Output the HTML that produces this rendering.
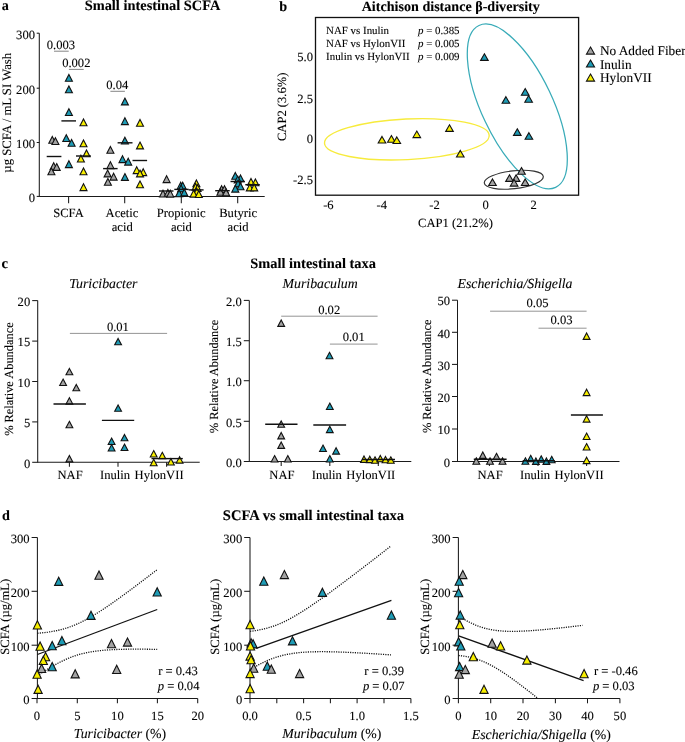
<!DOCTYPE html><html><head><meta charset="utf-8"><style>html,body{margin:0;padding:0;background:#fff;overflow:hidden;width:685px;height:742px;}svg{display:block;will-change:transform;}text{fill:#000;stroke:#000;stroke-width:0.1px;}</style></head><body><svg width="685" height="742" viewBox="0 0 685 742" style="text-rendering:geometricPrecision"><rect width="685" height="742" fill="#fff"/><text x="1.80" y="10.20" font-size="14.2" text-anchor="start" font-weight="bold" font-style="normal" font-family="Liberation Serif" >a</text>
<text x="84.70" y="10.00" font-size="14.4" text-anchor="start" font-weight="bold" font-style="normal" font-family="Liberation Serif" >Small intestinal SCFA</text>
<line x1="39.30" y1="33.20" x2="39.30" y2="196.90" stroke="#1a1a1a" stroke-width="1.05" />
<line x1="36.70" y1="33.20" x2="39.30" y2="33.20" stroke="#1a1a1a" stroke-width="1.05" />
<text x="35.00" y="38.80" font-size="12.6" text-anchor="end" font-weight="normal" font-style="normal" font-family="Liberation Serif" >300</text>
<line x1="36.70" y1="88.20" x2="39.30" y2="88.20" stroke="#1a1a1a" stroke-width="1.05" />
<text x="35.00" y="93.80" font-size="12.6" text-anchor="end" font-weight="normal" font-style="normal" font-family="Liberation Serif" >200</text>
<line x1="36.70" y1="142.50" x2="39.30" y2="142.50" stroke="#1a1a1a" stroke-width="1.05" />
<text x="35.00" y="148.10" font-size="12.6" text-anchor="end" font-weight="normal" font-style="normal" font-family="Liberation Serif" >100</text>
<line x1="36.70" y1="196.40" x2="39.30" y2="196.40" stroke="#1a1a1a" stroke-width="1.05" />
<text x="35.00" y="202.00" font-size="12.6" text-anchor="end" font-weight="normal" font-style="normal" font-family="Liberation Serif" >0</text>
<line x1="39.30" y1="196.40" x2="264.70" y2="196.40" stroke="#1a1a1a" stroke-width="1.05" />
<line x1="68.60" y1="196.40" x2="68.60" y2="203.30" stroke="#1a1a1a" stroke-width="1.05" />
<line x1="124.70" y1="196.40" x2="124.70" y2="203.30" stroke="#1a1a1a" stroke-width="1.05" />
<line x1="181.30" y1="196.40" x2="181.30" y2="203.30" stroke="#1a1a1a" stroke-width="1.05" />
<line x1="237.70" y1="196.40" x2="237.70" y2="203.30" stroke="#1a1a1a" stroke-width="1.05" />
<text x="68.50" y="216.80" font-size="12.6" text-anchor="middle" font-weight="normal" font-style="normal" font-family="Liberation Serif" >SCFA</text>
<text x="122.00" y="216.80" font-size="12.6" text-anchor="middle" font-weight="normal" font-style="normal" font-family="Liberation Serif" >Acetic</text>
<text x="122.20" y="230.90" font-size="12.6" text-anchor="middle" font-weight="normal" font-style="normal" font-family="Liberation Serif" >acid</text>
<text x="181.20" y="216.80" font-size="12.6" text-anchor="middle" font-weight="normal" font-style="normal" font-family="Liberation Serif" >Propionic</text>
<text x="181.40" y="230.90" font-size="12.6" text-anchor="middle" font-weight="normal" font-style="normal" font-family="Liberation Serif" >acid</text>
<text x="238.10" y="216.80" font-size="12.6" text-anchor="middle" font-weight="normal" font-style="normal" font-family="Liberation Serif" >Butyric</text>
<text x="238.10" y="230.90" font-size="12.6" text-anchor="middle" font-weight="normal" font-style="normal" font-family="Liberation Serif" >acid</text>
<text x="0" y="0" font-size="12.75" text-anchor="middle" font-family="Liberation Serif" transform="translate(10.70,112.75) rotate(-90)" >µg SCFA / mL SI Wash</text>
<text x="60.90" y="48.60" font-size="12.6" text-anchor="middle" font-weight="normal" font-style="normal" font-family="Liberation Serif" >0.003</text>
<line x1="54.00" y1="51.20" x2="68.70" y2="51.20" stroke="#777" stroke-width="0.9" />
<text x="76.30" y="66.50" font-size="12.6" text-anchor="middle" font-weight="normal" font-style="normal" font-family="Liberation Serif" >0.002</text>
<line x1="68.90" y1="69.40" x2="83.70" y2="69.40" stroke="#777" stroke-width="0.9" />
<text x="117.30" y="88.60" font-size="12.6" text-anchor="middle" font-weight="normal" font-style="normal" font-family="Liberation Serif" >0.04</text>
<line x1="110.40" y1="91.30" x2="124.90" y2="91.30" stroke="#777" stroke-width="0.9" />
<path d="M52.30 136.40L55.80 143.20L48.80 143.20Z" fill="#a3a3a3" stroke="#111" stroke-width="1.1" stroke-linejoin="miter"/>
<path d="M55.40 137.70L58.90 144.50L51.90 144.50Z" fill="#a3a3a3" stroke="#111" stroke-width="1.1" stroke-linejoin="miter"/>
<path d="M53.70 162.70L57.20 169.50L50.20 169.50Z" fill="#a3a3a3" stroke="#111" stroke-width="1.1" stroke-linejoin="miter"/>
<path d="M56.70 163.60L60.20 170.40L53.20 170.40Z" fill="#a3a3a3" stroke="#111" stroke-width="1.1" stroke-linejoin="miter"/>
<path d="M51.40 168.00L54.90 174.80L47.90 174.80Z" fill="#a3a3a3" stroke="#111" stroke-width="1.1" stroke-linejoin="miter"/>
<path d="M68.90 74.50L72.40 81.30L65.40 81.30Z" fill="#1e9cb6" stroke="#111" stroke-width="1.1" stroke-linejoin="miter"/>
<path d="M68.90 85.90L72.40 92.70L65.40 92.70Z" fill="#1e9cb6" stroke="#111" stroke-width="1.1" stroke-linejoin="miter"/>
<path d="M68.90 108.70L72.40 115.50L65.40 115.50Z" fill="#1e9cb6" stroke="#111" stroke-width="1.1" stroke-linejoin="miter"/>
<path d="M66.30 134.70L69.80 141.50L62.80 141.50Z" fill="#1e9cb6" stroke="#111" stroke-width="1.1" stroke-linejoin="miter"/>
<path d="M71.60 139.40L75.10 146.20L68.10 146.20Z" fill="#1e9cb6" stroke="#111" stroke-width="1.1" stroke-linejoin="miter"/>
<path d="M68.90 160.80L72.40 167.60L65.40 167.60Z" fill="#1e9cb6" stroke="#111" stroke-width="1.1" stroke-linejoin="miter"/>
<path d="M83.50 118.90L87.00 125.70L80.00 125.70Z" fill="#f7ee00" stroke="#111" stroke-width="1.1" stroke-linejoin="miter"/>
<path d="M83.50 139.90L87.00 146.70L80.00 146.70Z" fill="#f7ee00" stroke="#111" stroke-width="1.1" stroke-linejoin="miter"/>
<path d="M86.50 149.90L90.00 156.70L83.00 156.70Z" fill="#f7ee00" stroke="#111" stroke-width="1.1" stroke-linejoin="miter"/>
<path d="M80.90 155.20L84.40 162.00L77.40 162.00Z" fill="#f7ee00" stroke="#111" stroke-width="1.1" stroke-linejoin="miter"/>
<path d="M83.50 168.00L87.00 174.80L80.00 174.80Z" fill="#f7ee00" stroke="#111" stroke-width="1.1" stroke-linejoin="miter"/>
<path d="M83.50 183.80L87.00 190.60L80.00 190.60Z" fill="#f7ee00" stroke="#111" stroke-width="1.1" stroke-linejoin="miter"/>
<path d="M110.40 146.50L113.90 153.30L106.90 153.30Z" fill="#a3a3a3" stroke="#111" stroke-width="1.1" stroke-linejoin="miter"/>
<path d="M110.40 161.80L113.90 168.60L106.90 168.60Z" fill="#a3a3a3" stroke="#111" stroke-width="1.1" stroke-linejoin="miter"/>
<path d="M107.60 170.10L111.10 176.90L104.10 176.90Z" fill="#a3a3a3" stroke="#111" stroke-width="1.1" stroke-linejoin="miter"/>
<path d="M113.60 173.30L117.10 180.10L110.10 180.10Z" fill="#a3a3a3" stroke="#111" stroke-width="1.1" stroke-linejoin="miter"/>
<path d="M107.90 178.50L111.40 185.30L104.40 185.30Z" fill="#a3a3a3" stroke="#111" stroke-width="1.1" stroke-linejoin="miter"/>
<path d="M124.90 98.10L128.40 104.90L121.40 104.90Z" fill="#1e9cb6" stroke="#111" stroke-width="1.1" stroke-linejoin="miter"/>
<path d="M124.90 117.80L128.40 124.60L121.40 124.60Z" fill="#1e9cb6" stroke="#111" stroke-width="1.1" stroke-linejoin="miter"/>
<path d="M124.90 137.20L128.40 144.00L121.40 144.00Z" fill="#1e9cb6" stroke="#111" stroke-width="1.1" stroke-linejoin="miter"/>
<path d="M122.50 155.80L126.00 162.60L119.00 162.60Z" fill="#1e9cb6" stroke="#111" stroke-width="1.1" stroke-linejoin="miter"/>
<path d="M128.20 158.30L131.70 165.10L124.70 165.10Z" fill="#1e9cb6" stroke="#111" stroke-width="1.1" stroke-linejoin="miter"/>
<path d="M124.90 173.60L128.40 180.40L121.40 180.40Z" fill="#1e9cb6" stroke="#111" stroke-width="1.1" stroke-linejoin="miter"/>
<path d="M140.00 119.50L143.50 126.30L136.50 126.30Z" fill="#f7ee00" stroke="#111" stroke-width="1.1" stroke-linejoin="miter"/>
<path d="M140.00 142.10L143.50 148.90L136.50 148.90Z" fill="#f7ee00" stroke="#111" stroke-width="1.1" stroke-linejoin="miter"/>
<path d="M136.70 166.80L140.20 173.60L133.20 173.60Z" fill="#f7ee00" stroke="#111" stroke-width="1.1" stroke-linejoin="miter"/>
<path d="M143.20 168.80L146.70 175.60L139.70 175.60Z" fill="#f7ee00" stroke="#111" stroke-width="1.1" stroke-linejoin="miter"/>
<path d="M140.00 170.10L143.50 176.90L136.50 176.90Z" fill="#f7ee00" stroke="#111" stroke-width="1.1" stroke-linejoin="miter"/>
<path d="M140.00 180.90L143.50 187.70L136.50 187.70Z" fill="#f7ee00" stroke="#111" stroke-width="1.1" stroke-linejoin="miter"/>
<path d="M166.60 175.80L170.10 182.60L163.10 182.60Z" fill="#a3a3a3" stroke="#111" stroke-width="1.1" stroke-linejoin="miter"/>
<path d="M163.00 190.20L166.50 197.00L159.50 197.00Z" fill="#a3a3a3" stroke="#111" stroke-width="1.1" stroke-linejoin="miter"/>
<path d="M167.90 189.50L171.40 196.30L164.40 196.30Z" fill="#a3a3a3" stroke="#111" stroke-width="1.1" stroke-linejoin="miter"/>
<path d="M170.30 190.30L173.80 197.10L166.80 197.10Z" fill="#a3a3a3" stroke="#111" stroke-width="1.1" stroke-linejoin="miter"/>
<path d="M180.70 182.30L184.20 189.10L177.20 189.10Z" fill="#1e9cb6" stroke="#111" stroke-width="1.1" stroke-linejoin="miter"/>
<path d="M182.70 182.30L186.20 189.10L179.20 189.10Z" fill="#1e9cb6" stroke="#111" stroke-width="1.1" stroke-linejoin="miter"/>
<path d="M181.10 185.10L184.60 191.90L177.60 191.90Z" fill="#1e9cb6" stroke="#111" stroke-width="1.1" stroke-linejoin="miter"/>
<path d="M179.10 189.90L182.60 196.70L175.60 196.70Z" fill="#1e9cb6" stroke="#111" stroke-width="1.1" stroke-linejoin="miter"/>
<path d="M184.30 189.10L187.80 195.90L180.80 195.90Z" fill="#1e9cb6" stroke="#111" stroke-width="1.1" stroke-linejoin="miter"/>
<path d="M196.40 179.90L199.90 186.70L192.90 186.70Z" fill="#f7ee00" stroke="#111" stroke-width="1.1" stroke-linejoin="miter"/>
<path d="M195.60 183.50L199.10 190.30L192.10 190.30Z" fill="#f7ee00" stroke="#111" stroke-width="1.1" stroke-linejoin="miter"/>
<path d="M197.60 184.70L201.10 191.50L194.10 191.50Z" fill="#f7ee00" stroke="#111" stroke-width="1.1" stroke-linejoin="miter"/>
<path d="M196.80 188.30L200.30 195.10L193.30 195.10Z" fill="#f7ee00" stroke="#111" stroke-width="1.1" stroke-linejoin="miter"/>
<path d="M193.60 190.30L197.10 197.10L190.10 197.10Z" fill="#f7ee00" stroke="#111" stroke-width="1.1" stroke-linejoin="miter"/>
<path d="M198.80 190.70L202.30 197.50L195.30 197.50Z" fill="#f7ee00" stroke="#111" stroke-width="1.1" stroke-linejoin="miter"/>
<path d="M221.60 185.70L225.10 192.50L218.10 192.50Z" fill="#a3a3a3" stroke="#111" stroke-width="1.1" stroke-linejoin="miter"/>
<path d="M224.50 185.70L228.00 192.50L221.00 192.50Z" fill="#a3a3a3" stroke="#111" stroke-width="1.1" stroke-linejoin="miter"/>
<path d="M220.40 188.50L223.90 195.30L216.90 195.30Z" fill="#a3a3a3" stroke="#111" stroke-width="1.1" stroke-linejoin="miter"/>
<path d="M226.10 188.90L229.60 195.70L222.60 195.70Z" fill="#a3a3a3" stroke="#111" stroke-width="1.1" stroke-linejoin="miter"/>
<path d="M235.30 172.40L238.80 179.20L231.80 179.20Z" fill="#1e9cb6" stroke="#111" stroke-width="1.1" stroke-linejoin="miter"/>
<path d="M240.50 174.90L244.00 181.70L237.00 181.70Z" fill="#1e9cb6" stroke="#111" stroke-width="1.1" stroke-linejoin="miter"/>
<path d="M237.70 176.10L241.20 182.90L234.20 182.90Z" fill="#1e9cb6" stroke="#111" stroke-width="1.1" stroke-linejoin="miter"/>
<path d="M238.10 180.10L241.60 186.90L234.60 186.90Z" fill="#1e9cb6" stroke="#111" stroke-width="1.1" stroke-linejoin="miter"/>
<path d="M240.50 182.90L244.00 189.70L237.00 189.70Z" fill="#1e9cb6" stroke="#111" stroke-width="1.1" stroke-linejoin="miter"/>
<path d="M235.30 185.30L238.80 192.10L231.80 192.10Z" fill="#1e9cb6" stroke="#111" stroke-width="1.1" stroke-linejoin="miter"/>
<path d="M251.00 178.50L254.50 185.30L247.50 185.30Z" fill="#f7ee00" stroke="#111" stroke-width="1.1" stroke-linejoin="miter"/>
<path d="M255.40 178.90L258.90 185.70L251.90 185.70Z" fill="#f7ee00" stroke="#111" stroke-width="1.1" stroke-linejoin="miter"/>
<path d="M249.80 184.10L253.30 190.90L246.30 190.90Z" fill="#f7ee00" stroke="#111" stroke-width="1.1" stroke-linejoin="miter"/>
<path d="M254.20 184.10L257.70 190.90L250.70 190.90Z" fill="#f7ee00" stroke="#111" stroke-width="1.1" stroke-linejoin="miter"/>
<line x1="46.70" y1="156.50" x2="61.40" y2="156.50" stroke="#111" stroke-width="1.4" />
<line x1="61.40" y1="120.90" x2="76.00" y2="120.90" stroke="#111" stroke-width="1.4" />
<line x1="76.00" y1="156.00" x2="90.90" y2="156.00" stroke="#111" stroke-width="1.4" />
<line x1="103.10" y1="168.60" x2="117.60" y2="168.60" stroke="#111" stroke-width="1.4" />
<line x1="117.60" y1="142.80" x2="132.50" y2="142.80" stroke="#111" stroke-width="1.4" />
<line x1="132.50" y1="160.50" x2="147.10" y2="160.50" stroke="#111" stroke-width="1.4" />
<line x1="159.00" y1="191.00" x2="173.50" y2="191.00" stroke="#111" stroke-width="1.4" />
<line x1="174.30" y1="189.40" x2="188.70" y2="189.40" stroke="#111" stroke-width="1.4" />
<line x1="188.70" y1="189.90" x2="203.60" y2="189.90" stroke="#111" stroke-width="1.4" />
<line x1="215.20" y1="190.70" x2="229.70" y2="190.70" stroke="#111" stroke-width="1.4" />
<line x1="230.50" y1="181.50" x2="244.90" y2="181.50" stroke="#111" stroke-width="1.4" />
<line x1="245.30" y1="184.70" x2="259.80" y2="184.70" stroke="#111" stroke-width="1.4" />
<text x="279.20" y="11.00" font-size="14.2" text-anchor="start" font-weight="bold" font-style="normal" font-family="Liberation Serif" >b</text>
<text x="361.70" y="11.10" font-size="14.1" text-anchor="start" font-weight="bold" font-style="normal" font-family="Liberation Serif" >Aitchison distance β-diversity</text>
<rect x="315.5" y="17.5" width="263.1" height="177.7" fill="none" stroke="#111" stroke-width="1.3"/>
<text x="313.00" y="61.00" font-size="12.6" text-anchor="end" font-weight="normal" font-style="normal" font-family="Liberation Serif" >5.0</text>
<text x="313.00" y="102.50" font-size="12.6" text-anchor="end" font-weight="normal" font-style="normal" font-family="Liberation Serif" >2.5</text>
<text x="313.00" y="143.30" font-size="12.6" text-anchor="end" font-weight="normal" font-style="normal" font-family="Liberation Serif" >0</text>
<text x="313.00" y="183.80" font-size="12.6" text-anchor="end" font-weight="normal" font-style="normal" font-family="Liberation Serif" >-2.5</text>
<text x="328.40" y="208.50" font-size="12.6" text-anchor="middle" font-weight="normal" font-style="normal" font-family="Liberation Serif" >-6</text>
<text x="381.70" y="208.50" font-size="12.6" text-anchor="middle" font-weight="normal" font-style="normal" font-family="Liberation Serif" >-4</text>
<text x="434.60" y="208.50" font-size="12.6" text-anchor="middle" font-weight="normal" font-style="normal" font-family="Liberation Serif" >-2</text>
<text x="485.70" y="208.50" font-size="12.6" text-anchor="middle" font-weight="normal" font-style="normal" font-family="Liberation Serif" >0</text>
<text x="533.60" y="208.50" font-size="12.6" text-anchor="middle" font-weight="normal" font-style="normal" font-family="Liberation Serif" >2</text>
<text x="455.50" y="227.40" font-size="12.6" text-anchor="middle" font-weight="normal" font-style="normal" font-family="Liberation Serif" >CAP1 (21.2%)</text>
<text x="0" y="0" font-size="12.6" text-anchor="middle" font-family="Liberation Serif" transform="translate(286.20,106.80) rotate(-90)" >CAP2 (3.6%)</text>
<text x="326.10" y="34.40" font-size="10.9" text-anchor="start" font-weight="normal" font-style="normal" font-family="Liberation Serif" >NAF vs Inulin</text>
<text x="326.10" y="47.40" font-size="10.9" text-anchor="start" font-weight="normal" font-style="normal" font-family="Liberation Serif" >NAF vs HylonVII</text>
<text x="326.10" y="60.40" font-size="10.9" text-anchor="start" font-weight="normal" font-style="normal" font-family="Liberation Serif" >Inulin vs HylonVII</text>
<text x="418.0" y="34.4" font-size="10.9" font-family="Liberation Serif"><tspan font-style="italic">p</tspan> = 0.385</text>
<text x="418.0" y="47.4" font-size="10.9" font-family="Liberation Serif"><tspan font-style="italic">p</tspan> = 0.005</text>
<text x="418.0" y="60.4" font-size="10.9" font-family="Liberation Serif"><tspan font-style="italic">p</tspan> = 0.009</text>
<ellipse cx="0" cy="0" rx="82.44" ry="20.35" fill="none" stroke="#f7eb3c" stroke-width="1.35" transform="translate(406.85,139.30) rotate(-2.75)"/>
<ellipse cx="0" cy="0" rx="89.55" ry="35.50" fill="none" stroke="#38abb8" stroke-width="1.25" transform="translate(517.30,106.40) rotate(64.65)"/>
<ellipse cx="0" cy="0" rx="29.67" ry="8.92" fill="none" stroke="#333" stroke-width="1.2" transform="translate(513.80,179.75) rotate(-6.34)"/>
<path d="M382.00 136.40L385.80 143.00L378.20 143.00Z" fill="#f7ee00" stroke="#111" stroke-width="1.1" stroke-linejoin="miter"/>
<path d="M391.40 135.60L395.20 142.20L387.60 142.20Z" fill="#f7ee00" stroke="#111" stroke-width="1.1" stroke-linejoin="miter"/>
<path d="M396.80 136.90L400.60 143.50L393.00 143.50Z" fill="#f7ee00" stroke="#111" stroke-width="1.1" stroke-linejoin="miter"/>
<path d="M416.80 131.00L420.60 137.60L413.00 137.60Z" fill="#f7ee00" stroke="#111" stroke-width="1.1" stroke-linejoin="miter"/>
<path d="M449.50 124.80L453.30 131.40L445.70 131.40Z" fill="#f7ee00" stroke="#111" stroke-width="1.1" stroke-linejoin="miter"/>
<path d="M460.30 150.40L464.10 157.00L456.50 157.00Z" fill="#f7ee00" stroke="#111" stroke-width="1.1" stroke-linejoin="miter"/>
<path d="M484.40 53.80L488.20 60.40L480.60 60.40Z" fill="#1e9cb6" stroke="#111" stroke-width="1.1" stroke-linejoin="miter"/>
<path d="M505.90 96.70L509.70 103.30L502.10 103.30Z" fill="#1e9cb6" stroke="#111" stroke-width="1.1" stroke-linejoin="miter"/>
<path d="M525.20 88.60L529.00 95.20L521.40 95.20Z" fill="#1e9cb6" stroke="#111" stroke-width="1.1" stroke-linejoin="miter"/>
<path d="M528.60 95.60L532.40 102.20L524.80 102.20Z" fill="#1e9cb6" stroke="#111" stroke-width="1.1" stroke-linejoin="miter"/>
<path d="M517.30 128.80L521.10 135.40L513.50 135.40Z" fill="#1e9cb6" stroke="#111" stroke-width="1.1" stroke-linejoin="miter"/>
<path d="M528.90 132.70L532.70 139.30L525.10 139.30Z" fill="#1e9cb6" stroke="#111" stroke-width="1.1" stroke-linejoin="miter"/>
<path d="M492.50 178.90L496.30 185.50L488.70 185.50Z" fill="#a3a3a3" stroke="#111" stroke-width="1.1" stroke-linejoin="miter"/>
<path d="M509.50 174.80L513.30 181.40L505.70 181.40Z" fill="#a3a3a3" stroke="#111" stroke-width="1.1" stroke-linejoin="miter"/>
<path d="M516.10 174.80L519.90 181.40L512.30 181.40Z" fill="#a3a3a3" stroke="#111" stroke-width="1.1" stroke-linejoin="miter"/>
<path d="M514.10 179.50L517.90 186.10L510.30 186.10Z" fill="#a3a3a3" stroke="#111" stroke-width="1.1" stroke-linejoin="miter"/>
<path d="M521.50 167.60L525.30 174.20L517.70 174.20Z" fill="#a3a3a3" stroke="#111" stroke-width="1.1" stroke-linejoin="miter"/>
<path d="M525.20 178.90L529.00 185.50L521.40 185.50Z" fill="#a3a3a3" stroke="#111" stroke-width="1.1" stroke-linejoin="miter"/>
<path d="M590.50 47.10L594.53 54.10L586.47 54.10Z" fill="#a3a3a3" stroke="#111" stroke-width="1.1" stroke-linejoin="miter"/>
<text x="599.90" y="54.90" font-size="13.3" text-anchor="start" font-weight="normal" font-style="normal" font-family="Liberation Serif" >No Added Fiber</text>
<path d="M590.50 60.00L594.53 67.00L586.47 67.00Z" fill="#1e9cb6" stroke="#111" stroke-width="1.1" stroke-linejoin="miter"/>
<text x="599.90" y="68.60" font-size="13.3" text-anchor="start" font-weight="normal" font-style="normal" font-family="Liberation Serif" >Inulin</text>
<path d="M590.50 74.10L594.53 81.10L586.47 81.10Z" fill="#f7ee00" stroke="#111" stroke-width="1.1" stroke-linejoin="miter"/>
<text x="599.90" y="82.10" font-size="13.3" text-anchor="start" font-weight="normal" font-style="normal" font-family="Liberation Serif" >HylonVII</text>
<text x="1.60" y="267.90" font-size="14.6" text-anchor="start" font-weight="bold" font-style="normal" font-family="Liberation Serif" >c</text>
<text x="313.10" y="267.70" font-size="14.4" text-anchor="middle" font-weight="bold" font-style="normal" font-family="Liberation Serif" >Small intestinal taxa</text>
<line x1="37.70" y1="300.60" x2="37.70" y2="462.80" stroke="#1a1a1a" stroke-width="1.05" />
<line x1="32.20" y1="462.30" x2="37.70" y2="462.30" stroke="#1a1a1a" stroke-width="1.05" />
<text x="30.20" y="467.50" font-size="12.6" text-anchor="end" font-weight="normal" font-style="normal" font-family="Liberation Serif" >0</text>
<line x1="32.20" y1="421.90" x2="37.70" y2="421.90" stroke="#1a1a1a" stroke-width="1.05" />
<text x="30.20" y="427.10" font-size="12.6" text-anchor="end" font-weight="normal" font-style="normal" font-family="Liberation Serif" >5</text>
<line x1="32.20" y1="381.50" x2="37.70" y2="381.50" stroke="#1a1a1a" stroke-width="1.05" />
<text x="30.20" y="386.70" font-size="12.6" text-anchor="end" font-weight="normal" font-style="normal" font-family="Liberation Serif" >10</text>
<line x1="32.20" y1="341.10" x2="37.70" y2="341.10" stroke="#1a1a1a" stroke-width="1.05" />
<text x="30.20" y="346.30" font-size="12.6" text-anchor="end" font-weight="normal" font-style="normal" font-family="Liberation Serif" >15</text>
<line x1="32.20" y1="300.60" x2="37.70" y2="300.60" stroke="#1a1a1a" stroke-width="1.05" />
<text x="30.20" y="305.80" font-size="12.6" text-anchor="end" font-weight="normal" font-style="normal" font-family="Liberation Serif" >20</text>
<line x1="37.70" y1="462.30" x2="199.70" y2="462.30" stroke="#1a1a1a" stroke-width="1.05" />
<line x1="69.40" y1="462.30" x2="69.40" y2="466.80" stroke="#1a1a1a" stroke-width="1.05" />
<text x="70.10" y="479.00" font-size="12.6" text-anchor="middle" font-weight="normal" font-style="normal" font-family="Liberation Serif" >NAF</text>
<line x1="118.00" y1="462.30" x2="118.00" y2="466.80" stroke="#1a1a1a" stroke-width="1.05" />
<text x="115.00" y="479.00" font-size="12.6" text-anchor="middle" font-weight="normal" font-style="normal" font-family="Liberation Serif" >Inulin</text>
<line x1="166.60" y1="462.30" x2="166.60" y2="466.80" stroke="#1a1a1a" stroke-width="1.05" />
<text x="159.10" y="479.00" font-size="12.6" text-anchor="middle" font-weight="normal" font-style="normal" font-family="Liberation Serif" >HylonVII</text>
<text x="103.30" y="288.00" font-size="13.8" text-anchor="middle" font-weight="normal" font-style="italic" font-family="Liberation Serif" >Turicibacter</text>
<text x="0" y="0" font-size="12.4" text-anchor="middle" font-family="Liberation Serif" transform="translate(12.50,379.10) rotate(-90)" >% Relative Abundance</text>
<line x1="69.90" y1="333.40" x2="167.10" y2="333.40" stroke="#888" stroke-width="0.9" />
<text x="117.90" y="330.60" font-size="12.6" text-anchor="middle" font-weight="normal" font-style="normal" font-family="Liberation Serif" >0.01</text>
<path d="M69.40 368.40L72.80 374.80L66.00 374.80Z" fill="#a3a3a3" stroke="#111" stroke-width="1.1" stroke-linejoin="miter"/>
<path d="M63.10 379.10L66.50 385.50L59.70 385.50Z" fill="#a3a3a3" stroke="#111" stroke-width="1.1" stroke-linejoin="miter"/>
<path d="M76.30 384.40L79.70 390.80L72.90 390.80Z" fill="#a3a3a3" stroke="#111" stroke-width="1.1" stroke-linejoin="miter"/>
<path d="M69.40 397.70L72.80 404.10L66.00 404.10Z" fill="#a3a3a3" stroke="#111" stroke-width="1.1" stroke-linejoin="miter"/>
<path d="M69.40 421.30L72.80 427.70L66.00 427.70Z" fill="#a3a3a3" stroke="#111" stroke-width="1.1" stroke-linejoin="miter"/>
<path d="M69.40 455.50L72.80 461.90L66.00 461.90Z" fill="#a3a3a3" stroke="#111" stroke-width="1.1" stroke-linejoin="miter"/>
<path d="M118.10 338.40L121.50 344.80L114.70 344.80Z" fill="#1e9cb6" stroke="#111" stroke-width="1.1" stroke-linejoin="miter"/>
<path d="M118.10 404.90L121.50 411.30L114.70 411.30Z" fill="#1e9cb6" stroke="#111" stroke-width="1.1" stroke-linejoin="miter"/>
<path d="M111.60 438.10L115.00 444.50L108.20 444.50Z" fill="#1e9cb6" stroke="#111" stroke-width="1.1" stroke-linejoin="miter"/>
<path d="M124.50 434.40L127.90 440.80L121.10 440.80Z" fill="#1e9cb6" stroke="#111" stroke-width="1.1" stroke-linejoin="miter"/>
<path d="M111.60 444.60L115.00 451.00L108.20 451.00Z" fill="#1e9cb6" stroke="#111" stroke-width="1.1" stroke-linejoin="miter"/>
<path d="M124.50 444.10L127.90 450.50L121.10 450.50Z" fill="#1e9cb6" stroke="#111" stroke-width="1.1" stroke-linejoin="miter"/>
<path d="M153.70 450.60L157.10 457.00L150.30 457.00Z" fill="#f7ee00" stroke="#111" stroke-width="1.1" stroke-linejoin="miter"/>
<path d="M162.30 452.30L165.70 458.70L158.90 458.70Z" fill="#f7ee00" stroke="#111" stroke-width="1.1" stroke-linejoin="miter"/>
<path d="M153.70 459.30L157.10 465.70L150.30 465.70Z" fill="#f7ee00" stroke="#111" stroke-width="1.1" stroke-linejoin="miter"/>
<path d="M170.90 458.60L174.30 465.00L167.50 465.00Z" fill="#f7ee00" stroke="#111" stroke-width="1.1" stroke-linejoin="miter"/>
<path d="M179.60 456.70L183.00 463.10L176.20 463.10Z" fill="#f7ee00" stroke="#111" stroke-width="1.1" stroke-linejoin="miter"/>
<line x1="53.50" y1="404.00" x2="85.90" y2="404.00" stroke="#111" stroke-width="1.4" />
<line x1="101.90" y1="420.40" x2="134.20" y2="420.40" stroke="#111" stroke-width="1.4" />
<line x1="151.50" y1="458.60" x2="182.80" y2="458.60" stroke="#111" stroke-width="1.4" />
<line x1="249.30" y1="300.40" x2="249.30" y2="462.00" stroke="#1a1a1a" stroke-width="1.05" />
<line x1="243.80" y1="461.50" x2="249.30" y2="461.50" stroke="#1a1a1a" stroke-width="1.05" />
<text x="241.80" y="466.70" font-size="12.6" text-anchor="end" font-weight="normal" font-style="normal" font-family="Liberation Serif" >0.0</text>
<line x1="243.80" y1="421.30" x2="249.30" y2="421.30" stroke="#1a1a1a" stroke-width="1.05" />
<text x="241.80" y="426.50" font-size="12.6" text-anchor="end" font-weight="normal" font-style="normal" font-family="Liberation Serif" >0.5</text>
<line x1="243.80" y1="380.70" x2="249.30" y2="380.70" stroke="#1a1a1a" stroke-width="1.05" />
<text x="241.80" y="385.90" font-size="12.6" text-anchor="end" font-weight="normal" font-style="normal" font-family="Liberation Serif" >1.0</text>
<line x1="243.80" y1="340.70" x2="249.30" y2="340.70" stroke="#1a1a1a" stroke-width="1.05" />
<text x="241.80" y="345.90" font-size="12.6" text-anchor="end" font-weight="normal" font-style="normal" font-family="Liberation Serif" >1.5</text>
<line x1="243.80" y1="300.40" x2="249.30" y2="300.40" stroke="#1a1a1a" stroke-width="1.05" />
<text x="241.80" y="305.60" font-size="12.6" text-anchor="end" font-weight="normal" font-style="normal" font-family="Liberation Serif" >2.0</text>
<line x1="249.30" y1="461.50" x2="411.30" y2="461.50" stroke="#1a1a1a" stroke-width="1.05" />
<line x1="281.20" y1="461.50" x2="281.20" y2="466.00" stroke="#1a1a1a" stroke-width="1.05" />
<text x="281.90" y="479.00" font-size="12.6" text-anchor="middle" font-weight="normal" font-style="normal" font-family="Liberation Serif" >NAF</text>
<line x1="329.80" y1="461.50" x2="329.80" y2="466.00" stroke="#1a1a1a" stroke-width="1.05" />
<text x="326.80" y="479.00" font-size="12.6" text-anchor="middle" font-weight="normal" font-style="normal" font-family="Liberation Serif" >Inulin</text>
<line x1="378.30" y1="461.50" x2="378.30" y2="466.00" stroke="#1a1a1a" stroke-width="1.05" />
<text x="370.80" y="479.00" font-size="12.6" text-anchor="middle" font-weight="normal" font-style="normal" font-family="Liberation Serif" >HylonVII</text>
<text x="320.10" y="288.00" font-size="13.8" text-anchor="middle" font-weight="normal" font-style="italic" font-family="Liberation Serif" >Muribaculum</text>
<text x="0" y="0" font-size="12.4" text-anchor="middle" font-family="Liberation Serif" transform="translate(217.70,376.50) rotate(-90)" >% Relative Abundance</text>
<line x1="281.20" y1="316.20" x2="377.60" y2="316.20" stroke="#888" stroke-width="0.9" />
<text x="329.20" y="313.70" font-size="12.6" text-anchor="middle" font-weight="normal" font-style="normal" font-family="Liberation Serif" >0.02</text>
<line x1="329.90" y1="344.10" x2="377.60" y2="344.10" stroke="#888" stroke-width="0.9" />
<text x="353.70" y="341.00" font-size="12.6" text-anchor="middle" font-weight="normal" font-style="normal" font-family="Liberation Serif" >0.01</text>
<path d="M281.20 320.00L284.60 326.40L277.80 326.40Z" fill="#a3a3a3" stroke="#111" stroke-width="1.1" stroke-linejoin="miter"/>
<path d="M281.20 420.90L284.60 427.30L277.80 427.30Z" fill="#a3a3a3" stroke="#111" stroke-width="1.1" stroke-linejoin="miter"/>
<path d="M281.20 432.50L284.60 438.90L277.80 438.90Z" fill="#a3a3a3" stroke="#111" stroke-width="1.1" stroke-linejoin="miter"/>
<path d="M281.20 442.00L284.60 448.40L277.80 448.40Z" fill="#a3a3a3" stroke="#111" stroke-width="1.1" stroke-linejoin="miter"/>
<path d="M274.60 455.60L278.00 462.00L271.20 462.00Z" fill="#a3a3a3" stroke="#111" stroke-width="1.1" stroke-linejoin="miter"/>
<path d="M287.80 455.60L291.20 462.00L284.40 462.00Z" fill="#a3a3a3" stroke="#111" stroke-width="1.1" stroke-linejoin="miter"/>
<path d="M329.50 352.30L332.90 358.70L326.10 358.70Z" fill="#1e9cb6" stroke="#111" stroke-width="1.1" stroke-linejoin="miter"/>
<path d="M329.80 403.10L333.20 409.50L326.40 409.50Z" fill="#1e9cb6" stroke="#111" stroke-width="1.1" stroke-linejoin="miter"/>
<path d="M329.80 426.20L333.20 432.60L326.40 432.60Z" fill="#1e9cb6" stroke="#111" stroke-width="1.1" stroke-linejoin="miter"/>
<path d="M323.00 445.10L326.40 451.50L319.60 451.50Z" fill="#1e9cb6" stroke="#111" stroke-width="1.1" stroke-linejoin="miter"/>
<path d="M336.10 447.70L339.50 454.10L332.70 454.10Z" fill="#1e9cb6" stroke="#111" stroke-width="1.1" stroke-linejoin="miter"/>
<path d="M329.80 455.60L333.20 462.00L326.40 462.00Z" fill="#1e9cb6" stroke="#111" stroke-width="1.1" stroke-linejoin="miter"/>
<path d="M364.00 456.00L367.40 462.40L360.60 462.40Z" fill="#f7ee00" stroke="#111" stroke-width="1.1" stroke-linejoin="miter"/>
<path d="M369.80 456.20L373.20 462.60L366.40 462.60Z" fill="#f7ee00" stroke="#111" stroke-width="1.1" stroke-linejoin="miter"/>
<path d="M375.00 456.80L378.40 463.20L371.60 463.20Z" fill="#f7ee00" stroke="#111" stroke-width="1.1" stroke-linejoin="miter"/>
<path d="M380.30 455.40L383.70 461.80L376.90 461.80Z" fill="#f7ee00" stroke="#111" stroke-width="1.1" stroke-linejoin="miter"/>
<path d="M385.50 456.40L388.90 462.80L382.10 462.80Z" fill="#f7ee00" stroke="#111" stroke-width="1.1" stroke-linejoin="miter"/>
<path d="M390.80 456.80L394.20 463.20L387.40 463.20Z" fill="#f7ee00" stroke="#111" stroke-width="1.1" stroke-linejoin="miter"/>
<line x1="265.20" y1="424.30" x2="297.50" y2="424.30" stroke="#111" stroke-width="1.4" />
<line x1="313.30" y1="425.00" x2="346.10" y2="425.00" stroke="#111" stroke-width="1.4" />
<line x1="362.00" y1="459.50" x2="395.00" y2="459.50" stroke="#111" stroke-width="1.4" />
<line x1="457.50" y1="300.20" x2="457.50" y2="462.00" stroke="#1a1a1a" stroke-width="1.05" />
<line x1="452.00" y1="461.50" x2="457.50" y2="461.50" stroke="#1a1a1a" stroke-width="1.05" />
<text x="450.00" y="466.70" font-size="12.6" text-anchor="end" font-weight="normal" font-style="normal" font-family="Liberation Serif" >0</text>
<line x1="452.00" y1="429.00" x2="457.50" y2="429.00" stroke="#1a1a1a" stroke-width="1.05" />
<text x="450.00" y="434.20" font-size="12.6" text-anchor="end" font-weight="normal" font-style="normal" font-family="Liberation Serif" >10</text>
<line x1="452.00" y1="396.50" x2="457.50" y2="396.50" stroke="#1a1a1a" stroke-width="1.05" />
<text x="450.00" y="401.70" font-size="12.6" text-anchor="end" font-weight="normal" font-style="normal" font-family="Liberation Serif" >20</text>
<line x1="452.00" y1="364.40" x2="457.50" y2="364.40" stroke="#1a1a1a" stroke-width="1.05" />
<text x="450.00" y="369.60" font-size="12.6" text-anchor="end" font-weight="normal" font-style="normal" font-family="Liberation Serif" >30</text>
<line x1="452.00" y1="332.30" x2="457.50" y2="332.30" stroke="#1a1a1a" stroke-width="1.05" />
<text x="450.00" y="337.50" font-size="12.6" text-anchor="end" font-weight="normal" font-style="normal" font-family="Liberation Serif" >40</text>
<line x1="452.00" y1="300.20" x2="457.50" y2="300.20" stroke="#1a1a1a" stroke-width="1.05" />
<text x="450.00" y="305.40" font-size="12.6" text-anchor="end" font-weight="normal" font-style="normal" font-family="Liberation Serif" >50</text>
<line x1="457.50" y1="461.50" x2="619.50" y2="461.50" stroke="#1a1a1a" stroke-width="1.05" />
<line x1="489.40" y1="461.50" x2="489.40" y2="466.00" stroke="#1a1a1a" stroke-width="1.05" />
<text x="490.10" y="479.00" font-size="12.6" text-anchor="middle" font-weight="normal" font-style="normal" font-family="Liberation Serif" >NAF</text>
<line x1="538.00" y1="461.50" x2="538.00" y2="466.00" stroke="#1a1a1a" stroke-width="1.05" />
<text x="535.00" y="479.00" font-size="12.6" text-anchor="middle" font-weight="normal" font-style="normal" font-family="Liberation Serif" >Inulin</text>
<line x1="586.60" y1="461.50" x2="586.60" y2="466.00" stroke="#1a1a1a" stroke-width="1.05" />
<text x="579.10" y="479.00" font-size="12.6" text-anchor="middle" font-weight="normal" font-style="normal" font-family="Liberation Serif" >HylonVII</text>
<text x="515.00" y="288.00" font-size="13.8" text-anchor="middle" font-weight="normal" font-style="italic" font-family="Liberation Serif" >Escherichia/Shigella</text>
<text x="0" y="0" font-size="12.4" text-anchor="middle" font-family="Liberation Serif" transform="translate(431.40,376.30) rotate(-90)" >% Relative Abundance</text>
<line x1="490.10" y1="311.20" x2="586.60" y2="311.20" stroke="#888" stroke-width="0.9" />
<text x="537.50" y="306.90" font-size="12.6" text-anchor="middle" font-weight="normal" font-style="normal" font-family="Liberation Serif" >0.05</text>
<line x1="538.50" y1="328.20" x2="586.60" y2="328.20" stroke="#888" stroke-width="0.9" />
<text x="561.50" y="324.20" font-size="12.6" text-anchor="middle" font-weight="normal" font-style="normal" font-family="Liberation Serif" >0.03</text>
<path d="M476.30 457.80L479.70 464.20L472.90 464.20Z" fill="#a3a3a3" stroke="#111" stroke-width="1.1" stroke-linejoin="miter"/>
<path d="M482.80 452.00L486.20 458.40L479.40 458.40Z" fill="#a3a3a3" stroke="#111" stroke-width="1.1" stroke-linejoin="miter"/>
<path d="M490.00 457.80L493.40 464.20L486.60 464.20Z" fill="#a3a3a3" stroke="#111" stroke-width="1.1" stroke-linejoin="miter"/>
<path d="M496.50 453.30L499.90 459.70L493.10 459.70Z" fill="#a3a3a3" stroke="#111" stroke-width="1.1" stroke-linejoin="miter"/>
<path d="M502.50 457.80L505.90 464.20L499.10 464.20Z" fill="#a3a3a3" stroke="#111" stroke-width="1.1" stroke-linejoin="miter"/>
<path d="M525.40 457.80L528.80 464.20L522.00 464.20Z" fill="#1e9cb6" stroke="#111" stroke-width="1.1" stroke-linejoin="miter"/>
<path d="M530.70 455.30L534.10 461.70L527.30 461.70Z" fill="#1e9cb6" stroke="#111" stroke-width="1.1" stroke-linejoin="miter"/>
<path d="M535.90 458.00L539.30 464.40L532.50 464.40Z" fill="#1e9cb6" stroke="#111" stroke-width="1.1" stroke-linejoin="miter"/>
<path d="M541.20 455.80L544.60 462.20L537.80 462.20Z" fill="#1e9cb6" stroke="#111" stroke-width="1.1" stroke-linejoin="miter"/>
<path d="M546.40 458.00L549.80 464.40L543.00 464.40Z" fill="#1e9cb6" stroke="#111" stroke-width="1.1" stroke-linejoin="miter"/>
<path d="M551.70 456.30L555.10 462.70L548.30 462.70Z" fill="#1e9cb6" stroke="#111" stroke-width="1.1" stroke-linejoin="miter"/>
<path d="M586.60 333.00L590.00 339.40L583.20 339.40Z" fill="#f7ee00" stroke="#111" stroke-width="1.1" stroke-linejoin="miter"/>
<path d="M586.60 389.20L590.00 395.60L583.20 395.60Z" fill="#f7ee00" stroke="#111" stroke-width="1.1" stroke-linejoin="miter"/>
<path d="M586.60 415.70L590.00 422.10L583.20 422.10Z" fill="#f7ee00" stroke="#111" stroke-width="1.1" stroke-linejoin="miter"/>
<path d="M586.60 433.10L590.00 439.50L583.20 439.50Z" fill="#f7ee00" stroke="#111" stroke-width="1.1" stroke-linejoin="miter"/>
<path d="M586.60 443.60L590.00 450.00L583.20 450.00Z" fill="#f7ee00" stroke="#111" stroke-width="1.1" stroke-linejoin="miter"/>
<path d="M586.60 457.20L590.00 463.60L583.20 463.60Z" fill="#f7ee00" stroke="#111" stroke-width="1.1" stroke-linejoin="miter"/>
<line x1="473.80" y1="459.20" x2="506.60" y2="459.20" stroke="#111" stroke-width="1.4" />
<line x1="522.70" y1="460.80" x2="554.80" y2="460.80" stroke="#111" stroke-width="1.4" />
<line x1="570.90" y1="415.00" x2="602.90" y2="415.00" stroke="#111" stroke-width="1.4" />
<text x="2.00" y="519.80" font-size="14.2" text-anchor="start" font-weight="bold" font-style="normal" font-family="Liberation Serif" >d</text>
<text x="313.50" y="520.30" font-size="14.6" text-anchor="middle" font-weight="bold" font-style="normal" font-family="Liberation Serif" >SCFA vs small intestinal taxa</text>
<line x1="37.40" y1="537.50" x2="37.40" y2="699.00" stroke="#1a1a1a" stroke-width="1.05" />
<line x1="31.60" y1="537.50" x2="37.40" y2="537.50" stroke="#1a1a1a" stroke-width="1.05" />
<text x="29.60" y="543.00" font-size="12.6" text-anchor="end" font-weight="normal" font-style="normal" font-family="Liberation Serif" >300</text>
<line x1="31.60" y1="591.30" x2="37.40" y2="591.30" stroke="#1a1a1a" stroke-width="1.05" />
<text x="29.60" y="596.80" font-size="12.6" text-anchor="end" font-weight="normal" font-style="normal" font-family="Liberation Serif" >200</text>
<line x1="31.60" y1="645.20" x2="37.40" y2="645.20" stroke="#1a1a1a" stroke-width="1.05" />
<text x="29.60" y="650.70" font-size="12.6" text-anchor="end" font-weight="normal" font-style="normal" font-family="Liberation Serif" >100</text>
<line x1="31.60" y1="698.50" x2="37.40" y2="698.50" stroke="#1a1a1a" stroke-width="1.05" />
<text x="29.60" y="704.00" font-size="12.6" text-anchor="end" font-weight="normal" font-style="normal" font-family="Liberation Serif" >0</text>
<line x1="36.90" y1="698.50" x2="197.70" y2="698.50" stroke="#1a1a1a" stroke-width="1.05" />
<line x1="37.00" y1="698.50" x2="37.00" y2="703.30" stroke="#1a1a1a" stroke-width="1.05" />
<text x="37.00" y="719.50" font-size="12.6" text-anchor="middle" font-weight="normal" font-style="normal" font-family="Liberation Serif" >0</text>
<line x1="77.30" y1="698.50" x2="77.30" y2="703.30" stroke="#1a1a1a" stroke-width="1.05" />
<text x="77.30" y="719.50" font-size="12.6" text-anchor="middle" font-weight="normal" font-style="normal" font-family="Liberation Serif" >5</text>
<line x1="117.40" y1="698.50" x2="117.40" y2="703.30" stroke="#1a1a1a" stroke-width="1.05" />
<text x="117.40" y="719.50" font-size="12.6" text-anchor="middle" font-weight="normal" font-style="normal" font-family="Liberation Serif" >10</text>
<line x1="157.40" y1="698.50" x2="157.40" y2="703.30" stroke="#1a1a1a" stroke-width="1.05" />
<text x="157.40" y="719.50" font-size="12.6" text-anchor="middle" font-weight="normal" font-style="normal" font-family="Liberation Serif" >15</text>
<line x1="197.70" y1="698.50" x2="197.70" y2="703.30" stroke="#1a1a1a" stroke-width="1.05" />
<text x="197.70" y="719.50" font-size="12.6" text-anchor="middle" font-weight="normal" font-style="normal" font-family="Liberation Serif" >20</text>
<text x="120.0" y="738.4" font-size="13.8" text-anchor="middle" font-family="Liberation Serif"><tspan font-style="italic">Turicibacter</tspan> (%)</text>
<text x="0" y="0" font-size="12.6" text-anchor="middle" font-family="Liberation Serif" transform="translate(8.80,616.80) rotate(-90)" >SCFA (µg/mL)</text>
<line x1="37.40" y1="654.50" x2="157.20" y2="609.50" stroke="#111" stroke-width="1.3" />
<polyline points="37.40,633.28 38.90,633.15 40.39,633.02 41.89,632.87 43.39,632.71 44.89,632.54 46.38,632.35 47.88,632.15 49.38,631.93 50.88,631.70 52.38,631.45 53.87,631.18 55.37,630.89 56.87,630.58 58.36,630.25 59.86,629.90 61.36,629.52 62.86,629.12 64.35,628.70 65.85,628.25 67.35,627.77 68.85,627.27 70.34,626.74 71.84,626.18 73.34,625.60 74.84,624.99 76.33,624.36 77.83,623.69 79.33,623.01 80.83,622.29 82.32,621.56 83.82,620.79 85.32,620.01 86.82,619.21 88.31,618.38 89.81,617.53 91.31,616.67 92.81,615.79 94.30,614.89 95.80,613.97 97.30,613.04 98.80,612.09 100.29,611.13 101.79,610.16 103.29,609.18 104.79,608.18 106.28,607.18 107.78,606.16 109.28,605.13 110.78,604.10 112.27,603.06 113.77,602.01 115.27,600.95 116.77,599.89 118.26,598.82 119.76,597.74 121.26,596.66 122.76,595.57 124.25,594.48 125.75,593.38 127.25,592.28 128.75,591.18 130.24,590.07 131.74,588.95 133.24,587.84 134.74,586.72 136.23,585.59 137.73,584.47 139.23,583.34 140.73,582.20 142.22,581.07 143.72,579.93 145.22,578.79 146.72,577.65 148.21,576.50 149.71,575.36 151.21,574.21 152.71,573.06 154.20,571.91 155.70,570.76 157.20,569.60" fill="none" stroke="#111" stroke-width="1.3" stroke-dasharray="1.15,1.2"/>
<polyline points="37.40,675.72 38.90,674.72 40.39,673.73 41.89,672.75 43.39,671.79 44.89,670.84 46.38,669.90 47.88,668.97 49.38,668.07 50.88,667.17 52.38,666.30 53.87,665.44 55.37,664.61 56.87,663.79 58.36,663.00 59.86,662.23 61.36,661.48 62.86,660.75 64.35,660.05 65.85,659.38 67.35,658.73 68.85,658.11 70.34,657.51 71.84,656.94 73.34,656.40 74.84,655.88 76.33,655.39 77.83,654.93 79.33,654.49 80.83,654.08 82.32,653.69 83.82,653.33 85.32,652.99 86.82,652.67 88.31,652.37 89.81,652.09 91.31,651.83 92.81,651.59 94.30,651.36 95.80,651.16 97.30,650.96 98.80,650.78 100.29,650.62 101.79,650.46 103.29,650.32 104.79,650.19 106.28,650.07 107.78,649.97 109.28,649.87 110.78,649.77 112.27,649.69 113.77,649.62 115.27,649.55 116.77,649.49 118.26,649.43 119.76,649.38 121.26,649.34 122.76,649.30 124.25,649.27 125.75,649.24 127.25,649.22 128.75,649.20 130.24,649.18 131.74,649.17 133.24,649.16 134.74,649.16 136.23,649.16 137.73,649.16 139.23,649.16 140.73,649.17 142.22,649.18 143.72,649.19 145.22,649.21 146.72,649.23 148.21,649.25 149.71,649.27 151.21,649.29 152.71,649.31 154.20,649.34 155.70,649.37 157.20,649.40" fill="none" stroke="#111" stroke-width="1.3" stroke-dasharray="1.15,1.2"/>
<path d="M58.70 577.20L62.80 585.40L54.60 585.40Z" fill="#1e9cb6" stroke="#111" stroke-width="1.1" stroke-linejoin="miter"/>
<path d="M99.00 571.10L103.10 579.30L94.90 579.30Z" fill="#a3a3a3" stroke="#111" stroke-width="1.1" stroke-linejoin="miter"/>
<path d="M91.00 611.20L95.10 619.40L86.90 619.40Z" fill="#1e9cb6" stroke="#111" stroke-width="1.1" stroke-linejoin="miter"/>
<path d="M37.40 620.80L41.50 629.00L33.30 629.00Z" fill="#f7ee00" stroke="#111" stroke-width="1.1" stroke-linejoin="miter"/>
<path d="M157.20 587.80L161.30 596.00L153.10 596.00Z" fill="#1e9cb6" stroke="#111" stroke-width="1.1" stroke-linejoin="miter"/>
<path d="M40.10 642.10L44.20 650.30L36.00 650.30Z" fill="#f7ee00" stroke="#111" stroke-width="1.1" stroke-linejoin="miter"/>
<path d="M52.20 641.50L56.30 649.70L48.10 649.70Z" fill="#1e9cb6" stroke="#111" stroke-width="1.1" stroke-linejoin="miter"/>
<path d="M61.90 636.60L66.00 644.80L57.80 644.80Z" fill="#1e9cb6" stroke="#111" stroke-width="1.1" stroke-linejoin="miter"/>
<path d="M111.50 639.50L115.60 647.70L107.40 647.70Z" fill="#a3a3a3" stroke="#111" stroke-width="1.1" stroke-linejoin="miter"/>
<path d="M127.50 637.90L131.60 646.10L123.40 646.10Z" fill="#a3a3a3" stroke="#111" stroke-width="1.1" stroke-linejoin="miter"/>
<path d="M45.60 652.60L49.70 660.80L41.50 660.80Z" fill="#f7ee00" stroke="#111" stroke-width="1.1" stroke-linejoin="miter"/>
<path d="M43.30 656.30L47.40 664.50L39.20 664.50Z" fill="#f7ee00" stroke="#111" stroke-width="1.1" stroke-linejoin="miter"/>
<path d="M41.60 664.30L45.70 672.50L37.50 672.50Z" fill="#a3a3a3" stroke="#111" stroke-width="1.1" stroke-linejoin="miter"/>
<path d="M52.20 662.60L56.30 670.80L48.10 670.80Z" fill="#1e9cb6" stroke="#111" stroke-width="1.1" stroke-linejoin="miter"/>
<path d="M37.10 670.00L41.20 678.20L33.00 678.20Z" fill="#f7ee00" stroke="#111" stroke-width="1.1" stroke-linejoin="miter"/>
<path d="M75.20 669.70L79.30 677.90L71.10 677.90Z" fill="#a3a3a3" stroke="#111" stroke-width="1.1" stroke-linejoin="miter"/>
<path d="M116.70 665.30L120.80 673.50L112.60 673.50Z" fill="#a3a3a3" stroke="#111" stroke-width="1.1" stroke-linejoin="miter"/>
<path d="M38.10 685.20L42.20 693.40L34.00 693.40Z" fill="#f7ee00" stroke="#111" stroke-width="1.1" stroke-linejoin="miter"/>
<text x="158.20" y="675.00" font-size="12.6" text-anchor="start" font-weight="normal" font-style="normal" font-family="Liberation Serif" >r = 0.43</text>
<text x="157.70" y="689.8" font-size="12.6" font-family="Liberation Serif"><tspan font-style="italic">p</tspan> = 0.04</text>
<line x1="250.00" y1="537.50" x2="250.00" y2="699.00" stroke="#1a1a1a" stroke-width="1.05" />
<line x1="244.20" y1="537.50" x2="250.00" y2="537.50" stroke="#1a1a1a" stroke-width="1.05" />
<text x="242.20" y="543.00" font-size="12.6" text-anchor="end" font-weight="normal" font-style="normal" font-family="Liberation Serif" >300</text>
<line x1="244.20" y1="591.30" x2="250.00" y2="591.30" stroke="#1a1a1a" stroke-width="1.05" />
<text x="242.20" y="596.80" font-size="12.6" text-anchor="end" font-weight="normal" font-style="normal" font-family="Liberation Serif" >200</text>
<line x1="244.20" y1="645.20" x2="250.00" y2="645.20" stroke="#1a1a1a" stroke-width="1.05" />
<text x="242.20" y="650.70" font-size="12.6" text-anchor="end" font-weight="normal" font-style="normal" font-family="Liberation Serif" >100</text>
<line x1="244.20" y1="698.50" x2="250.00" y2="698.50" stroke="#1a1a1a" stroke-width="1.05" />
<text x="242.20" y="704.00" font-size="12.6" text-anchor="end" font-weight="normal" font-style="normal" font-family="Liberation Serif" >0</text>
<line x1="249.50" y1="698.50" x2="410.90" y2="698.50" stroke="#1a1a1a" stroke-width="1.05" />
<line x1="250.00" y1="698.50" x2="250.00" y2="703.30" stroke="#1a1a1a" stroke-width="1.05" />
<text x="250.00" y="719.50" font-size="12.6" text-anchor="middle" font-weight="normal" font-style="normal" font-family="Liberation Serif" >0.0</text>
<line x1="303.60" y1="698.50" x2="303.60" y2="703.30" stroke="#1a1a1a" stroke-width="1.05" />
<text x="303.60" y="719.50" font-size="12.6" text-anchor="middle" font-weight="normal" font-style="normal" font-family="Liberation Serif" >0.5</text>
<line x1="357.10" y1="698.50" x2="357.10" y2="703.30" stroke="#1a1a1a" stroke-width="1.05" />
<text x="357.10" y="719.50" font-size="12.6" text-anchor="middle" font-weight="normal" font-style="normal" font-family="Liberation Serif" >1.0</text>
<line x1="410.90" y1="698.50" x2="410.90" y2="703.30" stroke="#1a1a1a" stroke-width="1.05" />
<text x="410.90" y="719.50" font-size="12.6" text-anchor="middle" font-weight="normal" font-style="normal" font-family="Liberation Serif" >1.5</text>
<line x1="276.80" y1="698.50" x2="276.80" y2="703.30" stroke="#1a1a1a" stroke-width="1.05" />
<line x1="330.40" y1="698.50" x2="330.40" y2="703.30" stroke="#1a1a1a" stroke-width="1.05" />
<line x1="384.00" y1="698.50" x2="384.00" y2="703.30" stroke="#1a1a1a" stroke-width="1.05" />
<text x="331.8" y="738.2" font-size="13.8" text-anchor="middle" font-family="Liberation Serif"><tspan font-style="italic">Muribaculum</tspan> (%)</text>
<text x="0" y="0" font-size="12.6" text-anchor="middle" font-family="Liberation Serif" transform="translate(218.50,616.80) rotate(-90)" >SCFA (µg/mL)</text>
<line x1="256.20" y1="648.30" x2="391.40" y2="600.30" stroke="#111" stroke-width="1.3" />
<polyline points="250.10,631.34 251.86,631.13 253.62,630.90 255.38,630.64 257.14,630.36 258.91,630.04 260.67,629.70 262.43,629.32 264.19,628.91 265.95,628.47 267.71,627.99 269.47,627.47 271.24,626.92 273.00,626.33 274.76,625.70 276.52,625.03 278.28,624.32 280.04,623.58 281.80,622.80 283.56,621.99 285.32,621.14 287.09,620.26 288.85,619.35 290.61,618.40 292.37,617.43 294.13,616.43 295.89,615.41 297.65,614.36 299.42,613.29 301.18,612.21 302.94,611.10 304.70,609.97 306.46,608.83 308.22,607.67 309.98,606.50 311.74,605.31 313.50,604.11 315.27,602.90 317.03,601.68 318.79,600.45 320.55,599.21 322.31,597.96 324.07,596.70 325.83,595.44 327.60,594.17 329.36,592.89 331.12,591.61 332.88,590.32 334.64,589.02 336.40,587.72 338.16,586.41 339.92,585.11 341.69,583.79 343.45,582.47 345.21,581.15 346.97,579.83 348.73,578.50 350.49,577.17 352.25,575.83 354.01,574.50 355.77,573.16 357.54,571.82 359.30,570.47 361.06,569.12 362.82,567.78 364.58,566.43 366.34,565.07 368.10,563.72 369.87,562.36 371.63,561.00 373.39,559.64 375.15,558.28 376.91,556.92 378.67,555.56 380.43,554.19 382.19,552.83 383.95,551.46 385.72,550.09 387.48,548.72 389.24,547.35 391.00,545.98" fill="none" stroke="#111" stroke-width="1.3" stroke-dasharray="1.15,1.2"/>
<polyline points="250.10,669.59 251.86,668.55 253.62,667.53 255.38,666.54 257.14,665.57 258.91,664.64 260.67,663.73 262.43,662.86 264.19,662.02 265.95,661.21 267.71,660.44 269.47,659.70 271.24,659.01 273.00,658.35 274.76,657.73 276.52,657.14 278.28,656.60 280.04,656.09 281.80,655.62 283.56,655.18 285.32,654.78 287.09,654.41 288.85,654.07 290.61,653.77 292.37,653.49 294.13,653.23 295.89,653.01 297.65,652.80 299.42,652.62 301.18,652.46 302.94,652.32 304.70,652.19 306.46,652.08 308.22,651.99 309.98,651.91 311.74,651.85 313.50,651.80 315.27,651.76 317.03,651.73 318.79,651.71 320.55,651.70 322.31,651.70 324.07,651.70 325.83,651.72 327.60,651.74 329.36,651.76 331.12,651.80 332.88,651.84 334.64,651.88 336.40,651.93 338.16,651.99 339.92,652.05 341.69,652.11 343.45,652.18 345.21,652.25 346.97,652.32 348.73,652.40 350.49,652.48 352.25,652.56 354.01,652.65 355.77,652.74 357.54,652.83 359.30,652.92 361.06,653.02 362.82,653.12 364.58,653.22 366.34,653.32 368.10,653.42 369.87,653.53 371.63,653.64 373.39,653.75 375.15,653.86 376.91,653.97 378.67,654.08 380.43,654.20 382.19,654.31 383.95,654.43 385.72,654.55 387.48,654.67 389.24,654.79 391.00,654.91" fill="none" stroke="#111" stroke-width="1.3" stroke-dasharray="1.15,1.2"/>
<path d="M263.80 577.10L267.90 585.30L259.70 585.30Z" fill="#1e9cb6" stroke="#111" stroke-width="1.1" stroke-linejoin="miter"/>
<path d="M284.40 570.40L288.50 578.60L280.30 578.60Z" fill="#a3a3a3" stroke="#111" stroke-width="1.1" stroke-linejoin="miter"/>
<path d="M322.40 588.20L326.50 596.40L318.30 596.40Z" fill="#1e9cb6" stroke="#111" stroke-width="1.1" stroke-linejoin="miter"/>
<path d="M250.10 620.50L254.20 628.70L246.00 628.70Z" fill="#f7ee00" stroke="#111" stroke-width="1.1" stroke-linejoin="miter"/>
<path d="M292.50 636.70L296.60 644.90L288.40 644.90Z" fill="#1e9cb6" stroke="#111" stroke-width="1.1" stroke-linejoin="miter"/>
<path d="M251.10 638.70L255.20 646.90L247.00 646.90Z" fill="#a3a3a3" stroke="#111" stroke-width="1.1" stroke-linejoin="miter"/>
<path d="M253.10 639.70L257.20 647.90L249.00 647.90Z" fill="#1e9cb6" stroke="#111" stroke-width="1.1" stroke-linejoin="miter"/>
<path d="M250.50 641.80L254.60 650.00L246.40 650.00Z" fill="#f7ee00" stroke="#111" stroke-width="1.1" stroke-linejoin="miter"/>
<path d="M391.40 611.00L395.50 619.20L387.30 619.20Z" fill="#1e9cb6" stroke="#111" stroke-width="1.1" stroke-linejoin="miter"/>
<path d="M250.10 651.90L254.20 660.10L246.00 660.10Z" fill="#f7ee00" stroke="#111" stroke-width="1.1" stroke-linejoin="miter"/>
<path d="M251.10 655.50L255.20 663.70L247.00 663.70Z" fill="#f7ee00" stroke="#111" stroke-width="1.1" stroke-linejoin="miter"/>
<path d="M253.70 664.00L257.80 672.20L249.60 672.20Z" fill="#a3a3a3" stroke="#111" stroke-width="1.1" stroke-linejoin="miter"/>
<path d="M267.30 662.00L271.40 670.20L263.20 670.20Z" fill="#1e9cb6" stroke="#111" stroke-width="1.1" stroke-linejoin="miter"/>
<path d="M271.30 665.00L275.40 673.20L267.20 673.20Z" fill="#a3a3a3" stroke="#111" stroke-width="1.1" stroke-linejoin="miter"/>
<path d="M299.60 669.40L303.70 677.60L295.50 677.60Z" fill="#a3a3a3" stroke="#111" stroke-width="1.1" stroke-linejoin="miter"/>
<path d="M250.10 669.40L254.20 677.60L246.00 677.60Z" fill="#f7ee00" stroke="#111" stroke-width="1.1" stroke-linejoin="miter"/>
<path d="M250.10 684.60L254.20 692.80L246.00 692.80Z" fill="#f7ee00" stroke="#111" stroke-width="1.1" stroke-linejoin="miter"/>
<text x="364.30" y="675.00" font-size="12.6" text-anchor="start" font-weight="normal" font-style="normal" font-family="Liberation Serif" >r = 0.39</text>
<text x="362.90" y="689.8" font-size="12.6" font-family="Liberation Serif"><tspan font-style="italic">p</tspan> = 0.07</text>
<line x1="458.40" y1="537.50" x2="458.40" y2="699.00" stroke="#1a1a1a" stroke-width="1.05" />
<line x1="452.60" y1="537.50" x2="458.40" y2="537.50" stroke="#1a1a1a" stroke-width="1.05" />
<text x="450.60" y="543.00" font-size="12.6" text-anchor="end" font-weight="normal" font-style="normal" font-family="Liberation Serif" >300</text>
<line x1="452.60" y1="591.30" x2="458.40" y2="591.30" stroke="#1a1a1a" stroke-width="1.05" />
<text x="450.60" y="596.80" font-size="12.6" text-anchor="end" font-weight="normal" font-style="normal" font-family="Liberation Serif" >200</text>
<line x1="452.60" y1="645.20" x2="458.40" y2="645.20" stroke="#1a1a1a" stroke-width="1.05" />
<text x="450.60" y="650.70" font-size="12.6" text-anchor="end" font-weight="normal" font-style="normal" font-family="Liberation Serif" >100</text>
<line x1="452.60" y1="698.50" x2="458.40" y2="698.50" stroke="#1a1a1a" stroke-width="1.05" />
<text x="450.60" y="704.00" font-size="12.6" text-anchor="end" font-weight="normal" font-style="normal" font-family="Liberation Serif" >0</text>
<line x1="457.90" y1="698.50" x2="619.90" y2="698.50" stroke="#1a1a1a" stroke-width="1.05" />
<line x1="458.40" y1="698.50" x2="458.40" y2="703.30" stroke="#1a1a1a" stroke-width="1.05" />
<text x="458.40" y="719.50" font-size="12.6" text-anchor="middle" font-weight="normal" font-style="normal" font-family="Liberation Serif" >0</text>
<line x1="490.70" y1="698.50" x2="490.70" y2="703.30" stroke="#1a1a1a" stroke-width="1.05" />
<text x="490.70" y="719.50" font-size="12.6" text-anchor="middle" font-weight="normal" font-style="normal" font-family="Liberation Serif" >10</text>
<line x1="523.00" y1="698.50" x2="523.00" y2="703.30" stroke="#1a1a1a" stroke-width="1.05" />
<text x="523.00" y="719.50" font-size="12.6" text-anchor="middle" font-weight="normal" font-style="normal" font-family="Liberation Serif" >20</text>
<line x1="555.40" y1="698.50" x2="555.40" y2="703.30" stroke="#1a1a1a" stroke-width="1.05" />
<text x="555.40" y="719.50" font-size="12.6" text-anchor="middle" font-weight="normal" font-style="normal" font-family="Liberation Serif" >30</text>
<line x1="587.50" y1="698.50" x2="587.50" y2="703.30" stroke="#1a1a1a" stroke-width="1.05" />
<text x="587.50" y="719.50" font-size="12.6" text-anchor="middle" font-weight="normal" font-style="normal" font-family="Liberation Serif" >40</text>
<line x1="619.90" y1="698.50" x2="619.90" y2="703.30" stroke="#1a1a1a" stroke-width="1.05" />
<text x="619.90" y="719.50" font-size="12.6" text-anchor="middle" font-weight="normal" font-style="normal" font-family="Liberation Serif" >50</text>
<text x="541.3" y="739.0" font-size="13.8" text-anchor="middle" font-family="Liberation Serif"><tspan font-style="italic">Escherichia/Shigella</tspan> (%)</text>
<text x="0" y="0" font-size="12.6" text-anchor="middle" font-family="Liberation Serif" transform="translate(429.00,616.80) rotate(-90)" >SCFA (µg/mL)</text>
<line x1="458.60" y1="635.80" x2="583.60" y2="680.70" stroke="#111" stroke-width="1.3" />
<polyline points="458.60,616.11 460.15,617.06 461.70,618.00 463.25,618.91 464.80,619.79 466.35,620.64 467.90,621.46 469.45,622.25 471.00,623.01 472.55,623.74 474.10,624.43 475.65,625.09 477.20,625.70 478.75,626.29 480.30,626.83 481.85,627.34 483.40,627.82 484.95,628.25 486.50,628.65 488.05,629.02 489.60,629.36 491.15,629.66 492.70,629.93 494.25,630.18 495.80,630.39 497.35,630.58 498.90,630.75 500.45,630.89 502.00,631.01 503.55,631.11 505.10,631.19 506.65,631.26 508.20,631.30 509.75,631.33 511.30,631.35 512.85,631.35 514.40,631.34 515.95,631.32 517.50,631.29 519.05,631.25 520.60,631.20 522.15,631.14 523.70,631.07 525.25,630.99 526.80,630.91 528.35,630.81 529.90,630.72 531.45,630.61 533.00,630.50 534.55,630.39 536.10,630.27 537.65,630.15 539.20,630.02 540.75,629.89 542.30,629.75 543.85,629.61 545.40,629.47 546.95,629.32 548.50,629.17 550.05,629.02 551.60,628.86 553.15,628.70 554.70,628.54 556.25,628.38 557.80,628.22 559.35,628.05 560.90,627.88 562.45,627.71 564.00,627.54 565.55,627.36 567.10,627.18 568.65,627.01 570.20,626.83 571.75,626.64 573.30,626.46 574.85,626.28 576.40,626.09 577.95,625.91 579.50,625.72 581.05,625.53 582.60,625.34" fill="none" stroke="#111" stroke-width="1.3" stroke-dasharray="1.15,1.2"/>
<polyline points="458.60,655.49 459.59,655.59 460.58,655.70 461.57,655.81 462.56,655.94 463.54,656.08 464.53,656.22 465.52,656.38 466.51,656.56 467.50,656.74 468.49,656.94 469.48,657.15 470.47,657.37 471.45,657.60 472.44,657.85 473.43,658.12 474.42,658.40 475.41,658.69 476.40,659.00 477.39,659.32 478.38,659.66 479.36,660.01 480.35,660.38 481.34,660.76 482.33,661.15 483.32,661.57 484.31,661.99 485.30,662.43 486.29,662.89 487.27,663.36 488.26,663.84 489.25,664.33 490.24,664.84 491.23,665.36 492.22,665.90 493.21,666.44 494.20,667.00 495.18,667.57 496.17,668.15 497.16,668.74 498.15,669.34 499.14,669.95 500.13,670.57 501.12,671.20 502.11,671.83 503.09,672.48 504.08,673.13 505.07,673.79 506.06,674.46 507.05,675.13 508.04,675.82 509.03,676.50 510.02,677.20 511.00,677.90 511.99,678.60 512.98,679.31 513.97,680.03 514.96,680.75 515.95,681.47 516.94,682.20 517.93,682.94 518.91,683.68 519.90,684.42 520.89,685.16 521.88,685.91 522.87,686.67 523.86,687.42 524.85,688.18 525.84,688.94 526.82,689.71 527.81,690.48 528.80,691.25 529.79,692.02 530.78,692.79 531.77,693.57 532.76,694.35 533.75,695.13 534.73,695.92 535.72,696.70 536.71,697.49 537.70,698.28" fill="none" stroke="#111" stroke-width="1.3" stroke-dasharray="1.15,1.2"/>
<path d="M462.80 570.40L466.90 578.60L458.70 578.60Z" fill="#a3a3a3" stroke="#111" stroke-width="1.1" stroke-linejoin="miter"/>
<path d="M459.20 577.10L463.30 585.30L455.10 585.30Z" fill="#1e9cb6" stroke="#111" stroke-width="1.1" stroke-linejoin="miter"/>
<path d="M458.60 588.60L462.70 596.80L454.50 596.80Z" fill="#1e9cb6" stroke="#111" stroke-width="1.1" stroke-linejoin="miter"/>
<path d="M460.20 610.90L464.30 619.10L456.10 619.10Z" fill="#1e9cb6" stroke="#111" stroke-width="1.1" stroke-linejoin="miter"/>
<path d="M459.80 620.50L463.90 628.70L455.70 628.70Z" fill="#f7ee00" stroke="#111" stroke-width="1.1" stroke-linejoin="miter"/>
<path d="M458.60 637.70L462.70 645.90L454.50 645.90Z" fill="#1e9cb6" stroke="#111" stroke-width="1.1" stroke-linejoin="miter"/>
<path d="M460.80 641.80L464.90 650.00L456.70 650.00Z" fill="#1e9cb6" stroke="#111" stroke-width="1.1" stroke-linejoin="miter"/>
<path d="M492.10 639.10L496.20 647.30L488.00 647.30Z" fill="#a3a3a3" stroke="#111" stroke-width="1.1" stroke-linejoin="miter"/>
<path d="M500.60 641.80L504.70 650.00L496.50 650.00Z" fill="#f7ee00" stroke="#111" stroke-width="1.1" stroke-linejoin="miter"/>
<path d="M473.30 652.50L477.40 660.70L469.20 660.70Z" fill="#f7ee00" stroke="#111" stroke-width="1.1" stroke-linejoin="miter"/>
<path d="M526.90 655.90L531.00 664.10L522.80 664.10Z" fill="#f7ee00" stroke="#111" stroke-width="1.1" stroke-linejoin="miter"/>
<path d="M459.60 662.40L463.70 670.60L455.50 670.60Z" fill="#1e9cb6" stroke="#111" stroke-width="1.1" stroke-linejoin="miter"/>
<path d="M465.30 665.40L469.40 673.60L461.20 673.60Z" fill="#a3a3a3" stroke="#111" stroke-width="1.1" stroke-linejoin="miter"/>
<path d="M459.20 670.00L463.30 678.20L455.10 678.20Z" fill="#a3a3a3" stroke="#111" stroke-width="1.1" stroke-linejoin="miter"/>
<path d="M484.00 685.20L488.10 693.40L479.90 693.40Z" fill="#f7ee00" stroke="#111" stroke-width="1.1" stroke-linejoin="miter"/>
<path d="M584.10 669.60L588.20 677.80L580.00 677.80Z" fill="#f7ee00" stroke="#111" stroke-width="1.1" stroke-linejoin="miter"/>
<text x="593.90" y="675.00" font-size="12.6" text-anchor="start" font-weight="normal" font-style="normal" font-family="Liberation Serif" >r = -0.46</text>
<text x="592.90" y="689.8" font-size="12.6" font-family="Liberation Serif"><tspan font-style="italic">p</tspan> = 0.03</text></svg></body></html>
